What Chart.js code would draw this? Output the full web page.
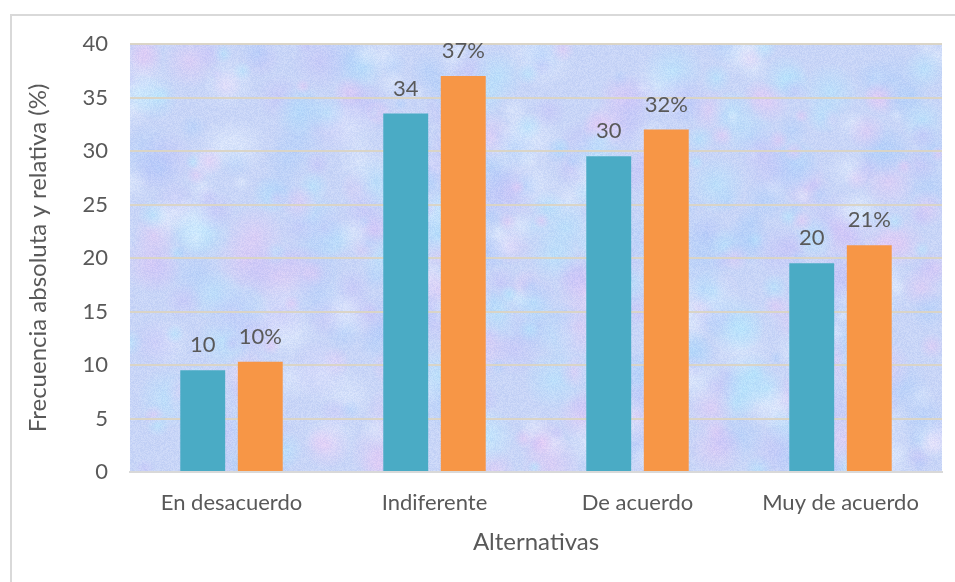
<!DOCTYPE html>
<html lang="es">
<head>
<meta charset="utf-8">
<title>Frecuencia absoluta y relativa</title>
<script src="https://cdn.jsdelivr.net/npm/chart.js@4.4.1/dist/chart.umd.min.js"></script>
<style>
  html, body { margin: 0; padding: 0; background: #fff; overflow: hidden; }
  #wrap { width: 955px; height: 582px; }
</style>
</head>
<body>
<div id="wrap"><canvas id="chart" width="955" height="582"></canvas></div>
<script>
const categories = ['En desacuerdo', 'Indiferente', 'De acuerdo', 'Muy de acuerdo'];
const absoluteFreq = [9.5, 33.5, 29.5, 19.5];
const relativeFreq = [10.3, 37.0, 32.0, 21.2];
const yMin = 0, yMax = 40, yStep = 5;

const TEXT = '#595959';
const FONT = 'Lato, "Liberation Sans", sans-serif';

// cheap deterministic hash, only used for the paper texture
const hash = n => {
  const s = Math.sin(n * 12.9898) * 43758.5453;
  return s - Math.floor(s);
};

let textureCanvas = null;
function buildTexture(w, h) {
  const c = document.createElement('canvas');
  c.width = w; c.height = h;
  const g = c.getContext('2d');
  g.fillStyle = '#c8d5f7';
  g.fillRect(0, 0, w, h);
  const tints = [
    'rgba(230,200,245,0.55)',
    'rgba(178,228,252,0.6)',
    'rgba(198,192,248,0.5)',
    'rgba(232,242,255,0.45)',
    'rgba(172,206,250,0.5)'
  ];
  for (let i = 0; i < 600; i++) {
    const x = hash(i + 1) * w, y = hash(i + 501) * h;
    const r = 7 + hash(i + 1001) * 24;
    const grd = g.createRadialGradient(x, y, 0, x, y, r);
    const col = tints[i % tints.length];
    grd.addColorStop(0, col);
    grd.addColorStop(1, col.replace(/[\d.]+\)$/, '0)'));
    g.fillStyle = grd;
    g.fillRect(x - r, y - r, r * 2, r * 2);
  }
  // fine speckle, bluish rather than grey
  const img = g.getImageData(0, 0, w, h);
  const d = img.data;
  for (let p = 0; p < w * h; p++) {
    const v = (hash(p * 0.731 + 7) - 0.5) * 18;
    d[p * 4] += v; d[p * 4 + 1] += v * 0.8; d[p * 4 + 2] += v * 0.3;
  }
  g.putImageData(img, 0, 0);
  return c;
}

const paperBackground = {
  id: 'paperBackground',
  beforeDraw(chart) {
    const {ctx, chartArea: a} = chart;
    ctx.save();
    // outer chart frame
    ctx.strokeStyle = '#d9d9d9';
    ctx.lineWidth = 2;
    ctx.strokeRect(11, 15, 1000, 1000);
    const w = Math.round(a.right - a.left), h = Math.round(a.bottom - a.top);
    if (!textureCanvas || textureCanvas.width !== w || textureCanvas.height !== h) {
      textureCanvas = buildTexture(w, h);
    }
    ctx.drawImage(textureCanvas, a.left, a.top);
    ctx.restore();
  }
};

const barLabels = {
  id: 'barLabels',
  afterDatasetsDraw(chart) {
    const {ctx} = chart;
    ctx.save();
    ctx.font = '22px ' + FONT;
    ctx.fillStyle = TEXT;
    ctx.textAlign = 'center';
    ctx.textBaseline = 'alphabetic';
    chart.data.datasets.forEach((ds, di) => {
      chart.getDatasetMeta(di).data.forEach((bar, i) => {
        const v = Math.round(ds.data[i]);
        ctx.fillText(di === 1 ? v + '%' : String(v), bar.x, bar.y - 18);
      });
    });
    ctx.restore();
  }
};

new Chart(document.getElementById('chart'), {
  type: 'bar',
  data: {
    labels: categories,
    datasets: [
      {
        label: 'Frecuencia absoluta',
        data: absoluteFreq,
        backgroundColor: '#4aabc5',
        categoryPercentage: 0.567,
        barPercentage: 0.78
      },
      {
        label: 'Frecuencia relativa (%)',
        data: relativeFreq,
        backgroundColor: '#f79646',
        categoryPercentage: 0.567,
        barPercentage: 0.78
      }
    ]
  },
  options: {
    responsive: false,
    animation: false,
    layout: { padding: { left: 10, right: 13, top: 44, bottom: 10 } },
    plugins: {
      legend: { display: false },
      tooltip: { enabled: false }
    },
    scales: {
      x: {
        grid: { display: false, drawTicks: false },
        border: { color: '#d9d9d9', width: 2 },
        ticks: { color: TEXT, font: { family: FONT, size: 22 }, padding: 18 },
        title: {
          display: true,
          text: 'Alternativas',
          color: TEXT,
          font: { family: FONT, size: 24 },
          padding: { top: 0, bottom: 15 }
        },
        afterFit(scale) { scale.height = 100; }
      },
      y: {
        min: yMin,
        max: yMax,
        grid: { color: 'rgba(218,212,196,0.95)', lineWidth: 2, drawTicks: false },
        border: { display: false },
        ticks: {
          stepSize: yStep,
          color: TEXT,
          font: { family: FONT, size: 22 },
          padding: 22
        },
        title: {
          display: true,
          text: 'Frecuencia absoluta y relativa (%)',
          color: TEXT,
          font: { family: FONT, size: 24 },
          padding: { top: 14, bottom: 0 }
        },
        afterFit(scale) { scale.width = 120; }
      }
    }
  },
  plugins: [paperBackground, barLabels]
});
</script>
</body>
</html>
